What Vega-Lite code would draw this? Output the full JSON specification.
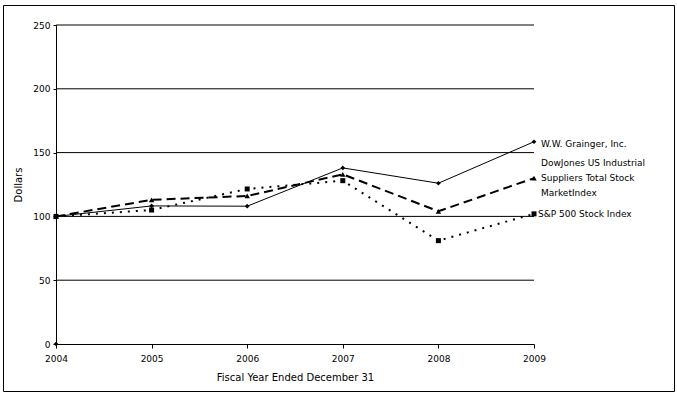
{
  "$schema": "https://vega.github.io/schema/vega-lite/v6.json",
  "width": 671,
  "height": 386,
  "autosize": {"type": "none"},
  "padding": {"left": 3, "top": 5, "right": 3, "bottom": 7},
  "background": "white",
  "config": {
    "view": {"stroke": "black", "strokeWidth": 1},
    "font": "DejaVu Sans",
    "axis": {
      "domainColor": "black",
      "tickColor": "black",
      "labelColor": "black",
      "titleColor": "black",
      "labelFont": "DejaVu Sans",
      "titleFont": "DejaVu Sans",
      "labelFontSize": 9,
      "titleFontSize": 10,
      "titleFontWeight": "normal",
      "labelFlush": false,
      "grid": false
    }
  },
  "datasets": {
    "series": [
      {"series": "W.W. Grainger, Inc.", "year": 2004, "value": 100},
      {"series": "W.W. Grainger, Inc.", "year": 2005, "value": 108.2},
      {"series": "W.W. Grainger, Inc.", "year": 2006, "value": 108},
      {"series": "W.W. Grainger, Inc.", "year": 2007, "value": 138},
      {"series": "W.W. Grainger, Inc.", "year": 2008, "value": 126},
      {"series": "W.W. Grainger, Inc.", "year": 2009, "value": 158.5},
      {"series": "DowJones US Industrial\nSuppliers Total Stock\nMarketIndex", "year": 2004, "value": 100},
      {"series": "DowJones US Industrial\nSuppliers Total Stock\nMarketIndex", "year": 2005, "value": 113},
      {"series": "DowJones US Industrial\nSuppliers Total Stock\nMarketIndex", "year": 2006, "value": 116},
      {"series": "DowJones US Industrial\nSuppliers Total Stock\nMarketIndex", "year": 2007, "value": 133},
      {"series": "DowJones US Industrial\nSuppliers Total Stock\nMarketIndex", "year": 2008, "value": 104},
      {"series": "DowJones US Industrial\nSuppliers Total Stock\nMarketIndex", "year": 2009, "value": 130},
      {"series": "S&P 500 Stock Index", "year": 2004, "value": 100},
      {"series": "S&P 500 Stock Index", "year": 2005, "value": 105},
      {"series": "S&P 500 Stock Index", "year": 2006, "value": 121.5},
      {"series": "S&P 500 Stock Index", "year": 2007, "value": 128},
      {"series": "S&P 500 Stock Index", "year": 2008, "value": 81},
      {"series": "S&P 500 Stock Index", "year": 2009, "value": 102}
    ],
    "grid": [
      {"value": 50}, {"value": 100}, {"value": 150}, {"value": 200}, {"value": 250}
    ],
    "extra": [
      {"year": 2004, "value": 0}
    ]
  },
  "layer": [
    {
      "data": {"name": "grid"},
      "mark": {"type": "rule", "color": "black", "strokeWidth": 1},
      "encoding": {
        "x": {"datum": 2004, "type": "quantitative"},
        "x2": {"datum": 2009},
        "y": {"field": "value", "type": "quantitative"}
      }
    },
    {
      "data": {"name": "series"},
      "transform": [{"filter": "datum.series == 'W.W. Grainger, Inc.'"}],
      "mark": {"type": "line", "color": "black", "strokeWidth": 1, "point": {"shape": "diamond", "size": 22, "filled": true, "color": "black"}},
      "encoding": {
        "x": {
          "field": "year", "type": "quantitative",
          "scale": {"domain": [2004, 2009], "range": [53, 531], "nice": false, "zero": false},
          "axis": {
            "values": [2004, 2005, 2006, 2007, 2008, 2009],
            "format": "d",
            "offset": -47,
            "tickSize": 4,
            "labelPadding": 6,
            "title": "Fiscal Year Ended December 31",
            "titlePadding": 9
          }
        },
        "y": {
          "field": "value", "type": "quantitative",
          "scale": {"domain": [0, 250], "range": [339, 20], "nice": false},
          "axis": {
            "values": [0, 50, 100, 150, 200, 250],
            "offset": -53,
            "tickSize": 3,
            "labelPadding": 3,
            "title": "Dollars",
            "titlePadding": 9
          }
        }
      }
    },
    {
      "data": {"name": "series"},
      "transform": [{"filter": "indexof(datum.series, 'DowJones') == 0"}],
      "mark": {"type": "line", "color": "black", "strokeWidth": 2, "strokeDash": [9, 5], "point": {"shape": "triangle-up", "size": 30, "filled": true, "color": "black"}},
      "encoding": {
        "x": {"field": "year", "type": "quantitative"},
        "y": {"field": "value", "type": "quantitative"}
      }
    },
    {
      "data": {"name": "series"},
      "transform": [{"filter": "datum.series == 'S&P 500 Stock Index'"}],
      "mark": {"type": "line", "color": "black", "strokeWidth": 2, "strokeDash": [2, 6], "point": {"shape": "square", "size": 25, "filled": true, "color": "black"}},
      "encoding": {
        "x": {"field": "year", "type": "quantitative"},
        "y": {"field": "value", "type": "quantitative"}
      }
    },
    {
      "data": {"name": "extra"},
      "mark": {"type": "point", "shape": "diamond", "size": 22, "filled": true, "color": "black", "opacity": 1},
      "encoding": {
        "x": {"field": "year", "type": "quantitative"},
        "y": {"field": "value", "type": "quantitative"}
      }
    },
    {
      "data": {"name": "series"},
      "transform": [{"filter": "datum.year == 2009 && datum.series == 'W.W. Grainger, Inc.'"}],
      "mark": {"type": "text", "align": "left", "baseline": "middle", "dx": 7, "dy": 2, "fontSize": 9, "font": "DejaVu Sans", "color": "black"},
      "encoding": {
        "x": {"field": "year", "type": "quantitative"},
        "y": {"field": "value", "type": "quantitative"},
        "text": {"field": "series"}
      }
    },
    {
      "data": {"name": "series"},
      "transform": [{"filter": "datum.year == 2009 && indexof(datum.series, 'DowJones') == 0"}],
      "mark": {"type": "text", "align": "left", "baseline": "middle", "dx": 7, "dy": -15, "fontSize": 9, "font": "DejaVu Sans", "lineBreak": "\n", "lineHeight": 15, "color": "black"},
      "encoding": {
        "x": {"field": "year", "type": "quantitative"},
        "y": {"field": "value", "type": "quantitative"},
        "text": {"field": "series"}
      }
    },
    {
      "data": {"name": "series"},
      "transform": [{"filter": "datum.year == 2009 && datum.series == 'S&P 500 Stock Index'"}],
      "mark": {"type": "text", "align": "left", "baseline": "middle", "dx": 4, "fontSize": 9, "font": "DejaVu Sans", "color": "black"},
      "encoding": {
        "x": {"field": "year", "type": "quantitative"},
        "y": {"field": "value", "type": "quantitative"},
        "text": {"field": "series"}
      }
    }
  ]
}
